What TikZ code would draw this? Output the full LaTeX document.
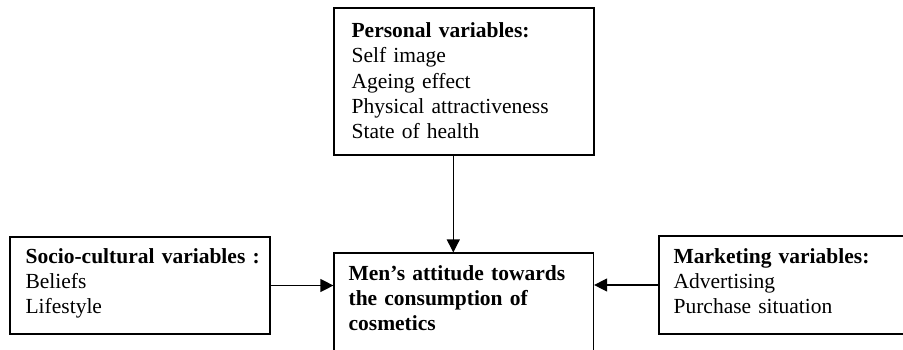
\documentclass[tikz,border=0pt]{standalone}
\usepackage{fontspec}
\setmainfont{Liberation Serif}
\usetikzlibrary{arrows.meta}

\begin{document}
\begin{tikzpicture}[x=1pt, y=-1pt, line width=1.2pt,
    box/.style={draw, rectangle, inner sep=0pt},
    txt/.style={anchor=base west, align=left, text width=250pt, inner sep=0pt,
        font=\fontsize{21.5}{25.2}\selectfont},
    >={Triangle[width=13pt,length=13pt]}]
    \clip (0, 0) rectangle (903, 349);

    \draw (464, 81.5) node[box, minimum width=260pt, minimum height=147pt] (pers) {};
    \draw (140, 285.5) node[box, minimum width=260pt, minimum height=97pt] (soc) {};
    \draw (784.5, 285) node[box, minimum width=251pt, minimum height=98pt] (mkt) {};
    \draw (463.75, 311.5) node[box, minimum width=259.5pt, minimum height=117pt] (ctr) {};

    \draw (351, 37.7) node[txt] (persT) {\textbf{Personal variables:}\\Self image\\Ageing effect\\Physical attractiveness\\State of health};
    \draw (25, 263) node[txt] (socT) {\textbf{Socio-cultural variables :}\\Beliefs\\Lifestyle};
    \draw (673, 263) node[txt] (mktT) {\textbf{Marketing variables:}\\Advertising\\Purchase situation};
    \draw (348, 280) node[txt] (ctrT) {\textbf{Men's attitude towards}\\\textbf{the consumption of}\\\textbf{cosmetics}};

    \draw[->] ([xshift=-10.7pt]pers.south) -- ([xshift=-10.7pt]pers.south |- ctr.north);
    \draw[->] (soc.east) -- (soc.east -| ctr.west);
    \draw[->] (mkt.west) -- (mkt.west -| ctr.east);
\end{tikzpicture}
\end{document}
